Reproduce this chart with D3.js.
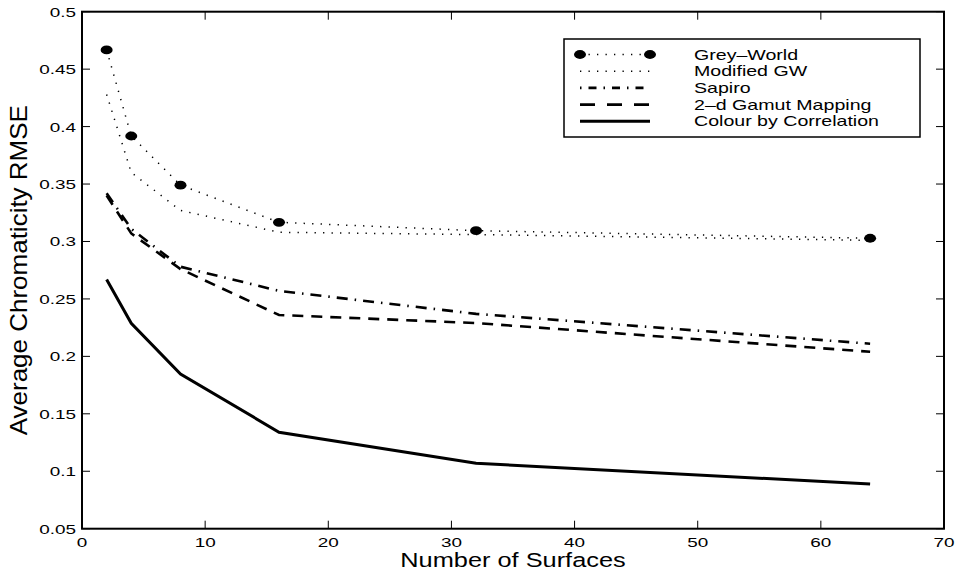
<!DOCTYPE html>
<html>
<head>
<meta charset="utf-8">
<script src="https://cdn.jsdelivr.net/npm/d3@7"></script>
<style>
  body { margin: 0; background: #fff; }
  text { font-family: "Liberation Sans", Arial, sans-serif; fill: #000; }
</style>
</head>
<body>
<svg id="chart" width="958" height="571"></svg>
<script>
// numbers of surfaces (x) and the RMSE of each method
var surfaces = [2, 4, 8, 16, 32, 64];
var greyWorld = [0.4667, 0.3918, 0.349, 0.3167, 0.3094, 0.3028];
var modifiedGW = [0.428, 0.360, 0.327, 0.308, 0.306, 0.301];
var sapiro = [0.342, 0.311, 0.278, 0.257, 0.237, 0.211];
var gamutMapping = [0.340, 0.307, 0.276, 0.236, 0.229, 0.204];
var correlation = [0.267, 0.2288, 0.1847, 0.134, 0.107, 0.0889];

var xTicks = [0, 10, 20, 30, 40, 50, 60, 70];
var yTicks = [0.05, 0.1, 0.15, 0.2, 0.25, 0.3, 0.35, 0.4, 0.45, 0.5];
var legendNames = ["Grey\u2013World", "Modified GW", "Sapiro", "2\u2013d Gamut Mapping", "Colour by Correlation"];

var svg = d3.select("#chart"),
    plotLeft = 82, plotRight = 944, plotTop = 11.7, plotBottom = 528.7;

var x = d3.scaleLinear().domain([0, 70]).range([plotLeft, plotRight]),
    y = d3.scaleLinear().domain([0.05, 0.5]).range([plotBottom, plotTop]);

// line styles, in the same order as legendNames
var styles = [
  {values: greyWorld, width: 1.5, dash: "1.3,7.2", marker: true},
  {values: modifiedGW, width: 1.5, dash: "1.3,7.2"},
  {values: sapiro, width: 2.6, dash: "11,7,1.5,7"},
  {values: gamutMapping, width: 2.6, dash: "11,8"},
  {values: correlation, width: 3, dash: null}
];
var legendDash = ["1.3,7.2", "1.3,7.2", "1.5,7,8,7", "15,12", null];

var line = d3.line()
    .x(function(d) { return x(d[0]); })
    .y(function(d) { return y(d[1]); });

var g = svg.append("g");

styles.forEach(function(s) {
  g.append("path")
      .attr("d", line(d3.zip(surfaces, s.values)))
      .attr("fill", "none")
      .attr("stroke", "#000")
      .attr("stroke-width", s.width)
      .attr("stroke-dasharray", s.dash);
  if (s.marker) {
    g.selectAll(null)
        .data(d3.zip(surfaces, s.values))
        .enter().append("ellipse")
        .attr("cx", function(d) { return x(d[0]); })
        .attr("cy", function(d) { return y(d[1]); })
        .attr("rx", 6).attr("ry", 4.4)
        .attr("fill", "#000");
  }
});

// axes: box with inward ticks on all sides
var axes = svg.append("g");
xTicks.forEach(function(t) {
  axes.append("line").attr("x1", x(t)).attr("x2", x(t)).attr("y1", plotBottom).attr("y2", plotBottom - 8)
      .attr("stroke", "#000").attr("stroke-width", 1);
  axes.append("line").attr("x1", x(t)).attr("x2", x(t)).attr("y1", plotTop).attr("y2", plotTop + 8)
      .attr("stroke", "#000").attr("stroke-width", 1);
  axes.append("text")
      .attr("transform", "translate(" + x(t) + ",547) scale(1.4,1)")
      .attr("text-anchor", "middle")
      .attr("font-size", 13.5)
      .text(t);
});
yTicks.forEach(function(t) {
  axes.append("line").attr("x1", plotLeft).attr("x2", plotLeft + 8).attr("y1", y(t)).attr("y2", y(t))
      .attr("stroke", "#000").attr("stroke-width", 1);
  axes.append("line").attr("x1", plotRight).attr("x2", plotRight - 8).attr("y1", y(t)).attr("y2", y(t))
      .attr("stroke", "#000").attr("stroke-width", 1);
  axes.append("text")
      .attr("transform", "translate(76," + (y(t) + 5) + ") scale(1.4,1)")
      .attr("text-anchor", "end")
      .attr("font-size", 13.5)
      .text(d3.format("")(t));
});
axes.append("rect")
    .attr("x", plotLeft).attr("y", plotTop)
    .attr("width", plotRight - plotLeft).attr("height", plotBottom - plotTop)
    .attr("fill", "none").attr("stroke", "#000").attr("stroke-width", 2);

svg.append("text")
    .attr("transform", "translate(" + ((plotLeft + plotRight) / 2) + ",567) scale(1.3,1)")
    .attr("text-anchor", "middle")
    .attr("font-size", 19.5)
    .text("Number of Surfaces");

svg.append("text")
    .attr("transform", "translate(27," + ((plotTop + plotBottom) / 2) + ") scale(0.9,1) rotate(-90)")
    .attr("text-anchor", "middle")
    .attr("font-size", 26)
    .text("Average Chromaticity RMSE");

// legend
var lg = svg.append("g");
lg.append("rect")
    .attr("x", 564).attr("y", 39).attr("width", 356).attr("height", 98)
    .attr("fill", "#fff").attr("stroke", "#000").attr("stroke-width", 1.5);
legendNames.forEach(function(name, i) {
  var ly = 54.5 + i * 16.7;
  var s = styles[i];
  lg.append("line")
      .attr("x1", 580).attr("x2", 650).attr("y1", ly).attr("y2", ly)
      .attr("stroke", "#000").attr("stroke-width", s.width)
      .attr("stroke-dasharray", legendDash[i]);
  if (s.marker) {
    [580, 650].forEach(function(mx) {
      lg.append("ellipse").attr("cx", mx).attr("cy", ly).attr("rx", 6).attr("ry", 4.4).attr("fill", "#000");
    });
  }
  lg.append("text")
      .attr("transform", "translate(694," + (ly + 5) + ") scale(1.37,1)")
      .attr("font-size", 14.3)
      .text(name);
});
</script>
</body>
</html>
